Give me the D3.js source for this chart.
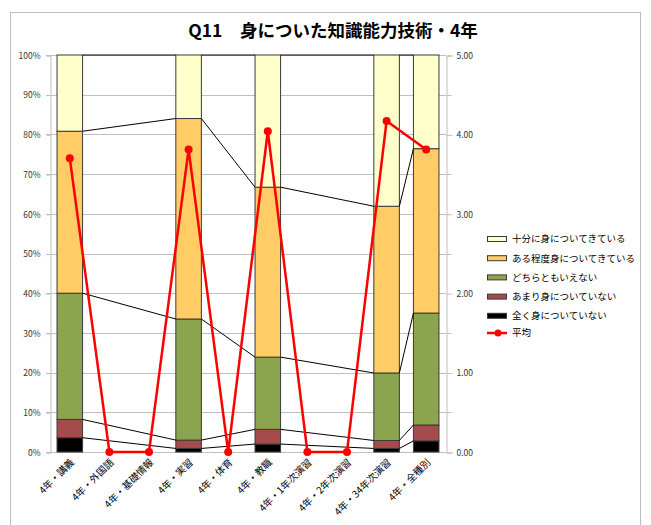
<!DOCTYPE html>
<html>
<head>
<meta charset="utf-8">
<script src="https://cdn.jsdelivr.net/npm/d3@7"></script>
<style>
  html, body { margin: 0; padding: 0; background: #fff; }
  svg { display: block; }
  text { font-family: "Noto Sans CJK JP", "Noto Sans", sans-serif; }
</style>
</head>
<body>
<svg id="chart" width="651" height="525"></svg>
<script>
// Survey categories (x axis)
const categories = [
  "4年・講義", "4年・外国語", "4年・基礎情報", "4年・実習", "4年・体育",
  "4年・教職", "4年・1年次演習", "4年・2年次演習", "4年・34年次演習", "4年・全種別"
];

// Share of responses per answer (%), stacked bottom to top
const zenku   = [3.6, 0, 0, 0.9, 0, 2.0, 0, 0, 0.9, 2.8];   // 全く身についていない
const amari   = [4.6, 0, 0, 2.1, 0, 3.7, 0, 0, 2.0, 4.0];   // あまり身についていない
const dochira = [31.8, 0, 0, 30.5, 0, 18.2, 0, 0, 17.0, 28.2]; // どちらともいえない
const aruteido = [40.8, 0, 0, 50.5, 0, 42.8, 0, 0, 42.0, 41.4]; // ある程度身についてきている
const jubun   = [19.2, 0, 0, 16.0, 0, 33.3, 0, 0, 38.1, 23.6];  // 十分に身についてきている

// Mean score (right axis, 0-5)
const heikin = [3.70, 0, 0, 3.81, 0, 4.04, 0, 0, 4.17, 3.81];

const seriesNames = ["全く身についていない", "あまり身についていない", "どちらともいえない", "ある程度身についてきている", "十分に身についてきている"];
const seriesColors = ["#000000", "#A64B4B", "#8BA44E", "#FFCC66", "#FFFFCC"];
const avgName = "平均";

const leftTicks = d3.range(0, 101, 10);
const rightTicks = [0, 1, 2, 3, 4, 5];

const rows = categories.map((c, i) => ({
  cat: c, s0: zenku[i], s1: amari[i], s2: dochira[i], s3: aruteido[i], s4: jubun[i]
}));
const keys = ["s0", "s1", "s2", "s3", "s4"];
const stacked = d3.stack().keys(keys)(rows);

const svg = d3.select("#chart");

// outer chart frame
svg.append("rect")
  .attr("x", 10.5).attr("y", 12.5).attr("width", 630).attr("height", 530)
  .attr("fill", "#fff").attr("stroke", "#bdbdbd").attr("stroke-width", 1);

// title
svg.append("text")
  .attr("x", 333).attr("y", 37)
  .attr("text-anchor", "middle")
  .attr("font-size", 17.5).attr("font-weight", "bold")
  .attr("fill", "#000")
  .text("Q11　身についた知識能力技術・4年");

const plot = { left: 50, right: 446, top: 55, bottom: 452 };

const x = d3.scaleBand().domain(categories).range([plot.left, plot.right]).paddingInner(0.355).paddingOuter(0.1775);
const yL = d3.scaleLinear().domain([0, 100]).range([plot.bottom, plot.top]);
const yR = d3.scaleLinear().domain([0, 5]).range([plot.bottom, plot.top]);

// horizontal gridlines
svg.append("g").selectAll("line").data(leftTicks).join("line")
  .attr("x1", plot.left - 4).attr("x2", plot.right)
  .attr("y1", d => Math.round(yL(d)) + 0.5).attr("y2", d => Math.round(yL(d)) + 0.5)
  .attr("stroke", "#bfbfbf").attr("stroke-width", 1);

// left axis
const axL = d3.axisLeft(yL).tickValues(leftTicks).tickFormat(d => d + "%").tickSize(4).tickPadding(6);
const gL = svg.append("g").attr("transform", `translate(${plot.left + 0.5},0.5)`).call(axL);
gL.selectAll("path,line").attr("stroke", "#bfbfbf");
gL.selectAll("text").attr("font-family", "DejaVu Sans, sans-serif").attr("font-size", 8.5).attr("fill", "#333");

// right axis with minor ticks
const minorR = d3.range(0.5, 5, 1);
const gRm = svg.append("g").attr("transform", `translate(${plot.right + 0.5},0.5)`);
gRm.selectAll("line").data(minorR).join("line")
  .attr("x1", 0).attr("x2", 5)
  .attr("y1", d => Math.round(yR(d))).attr("y2", d => Math.round(yR(d)))
  .attr("stroke", "#bfbfbf");
const axR = d3.axisRight(yR).tickValues(rightTicks).tickFormat(d3.format(".2f")).tickSize(6).tickPadding(4);
const gR = svg.append("g").attr("transform", `translate(${plot.right + 0.5},0.5)`).call(axR);
gR.selectAll("path,line").attr("stroke", "#bfbfbf");
gR.selectAll("text").attr("font-family", "DejaVu Sans, sans-serif").attr("font-size", 8.5).attr("fill", "#333");

// bottom axis line
svg.append("line")
  .attr("x1", plot.left).attr("x2", plot.right)
  .attr("y1", plot.bottom + 0.5).attr("y2", plot.bottom + 0.5)
  .attr("stroke", "#bfbfbf");

// category labels, rotated
svg.append("g").selectAll("text").data(categories).join("text")
  .attr("transform", d => `translate(${x(d) + x.bandwidth() / 2 + 5},${plot.bottom + 11}) rotate(-45)`)
  .attr("text-anchor", "end")
  .attr("font-size", 9.8).attr("fill", "#000")
  .text(d => d);

// stacked bars
stacked.forEach((layer, k) => {
  svg.append("g").selectAll("rect").data(layer.filter(d => d[1] - d[0] > 0)).join("rect")
    .attr("x", d => x(d.data.cat))
    .attr("width", x.bandwidth())
    .attr("y", d => yL(d[1]))
    .attr("height", d => yL(d[0]) - yL(d[1]))
    .attr("fill", seriesColors[k])
    .attr("stroke", "#3a3a3a").attr("stroke-width", 1);
});

// series lines joining each stack boundary between neighbouring non-empty bars
const filled = rows.map((r, i) => i).filter(i => keys.reduce((s, k) => s + rows[i][k], 0) > 0);
const seg = [];
stacked.forEach(layer => {
  for (let j = 0; j < filled.length - 1; j++) {
    const a = filled[j], b = filled[j + 1];
    seg.push({
      x1: x(categories[a]) + x.bandwidth(), y1: yL(layer[a][1]),
      x2: x(categories[b]), y2: yL(layer[b][1])
    });
  }
});
svg.append("g").selectAll("line").data(seg).join("line")
  .attr("x1", d => d.x1).attr("y1", d => d.y1)
  .attr("x2", d => d.x2).attr("y2", d => d.y2)
  .attr("stroke", "#000").attr("stroke-width", 1);

// mean line
const avgLine = d3.line()
  .x((d, i) => x(categories[i]) + x.bandwidth() / 2)
  .y(d => yR(d));
svg.append("path").datum(heikin)
  .attr("d", avgLine)
  .attr("fill", "none").attr("stroke", "#FF0000").attr("stroke-width", 2.5)
  .attr("stroke-linejoin", "round");
svg.append("g").selectAll("circle").data(heikin).join("circle")
  .attr("cx", (d, i) => x(categories[i]) + x.bandwidth() / 2)
  .attr("cy", d => yR(d))
  .attr("r", 4)
  .attr("fill", "#FF0000");

// legend
const legend = svg.append("g").attr("transform", "translate(487,239)");
const legendItems = seriesNames.map((n, i) => ({ name: n, color: seriesColors[i] })).reverse();
legendItems.forEach((it, i) => {
  const g = legend.append("g").attr("transform", `translate(0,${i * 19.2})`);
  g.append("rect").attr("x", 0.5).attr("y", -2.5).attr("width", 19).attr("height", 5)
    .attr("fill", it.color).attr("stroke", "#3a3a3a").attr("stroke-width", 1);
  g.append("text").attr("x", 25).attr("y", 0).attr("dy", "0.35em")
    .attr("font-size", 9.5).attr("fill", "#000").text(it.name);
});
const gA = legend.append("g").attr("transform", `translate(0,${5 * 19.2 - 2})`);
gA.append("line").attr("x1", 0).attr("x2", 20).attr("y1", 0).attr("y2", 0)
  .attr("stroke", "#FF0000").attr("stroke-width", 2.5);
gA.append("circle").attr("cx", 11).attr("cy", 0).attr("r", 3.5).attr("fill", "#FF0000");
gA.append("text").attr("x", 25).attr("y", 0).attr("dy", "0.35em")
  .attr("font-size", 9.5).attr("fill", "#000").text(avgName);
</script>
</body>
</html>
